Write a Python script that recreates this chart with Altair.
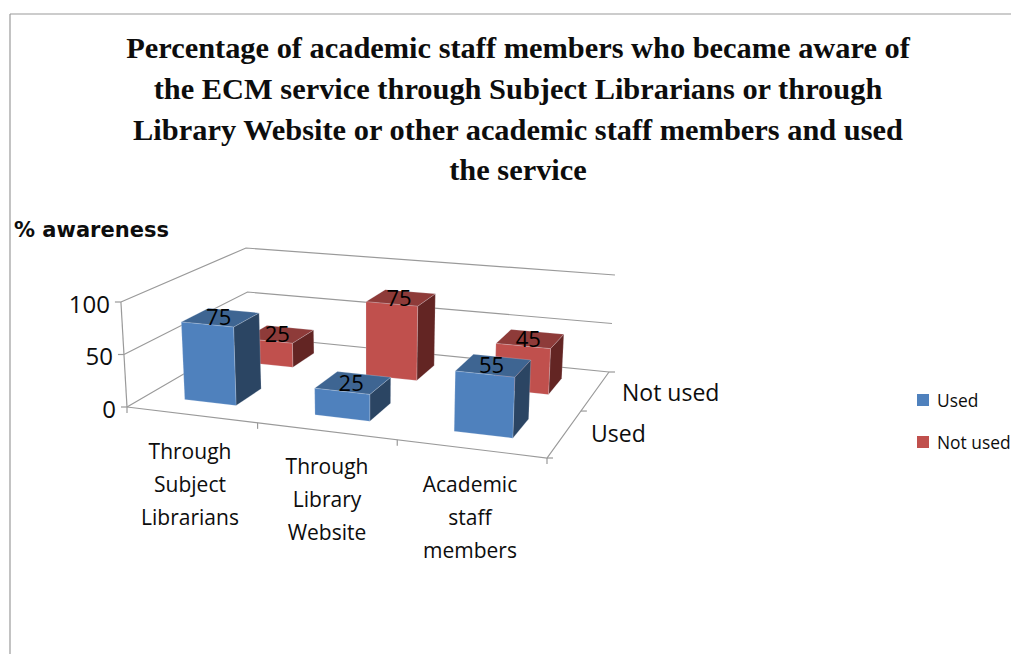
import altair as alt
import numpy as np
import pandas as pd

title_lines = ["Percentage of academic staff members who became aware of",
               "the ECM service through Subject Librarians or through",
               "Library Website or other academic staff members and used",
               "the service"]
y_title = "% awareness"
category_lines = [["Through", "Subject", "Librarians"],
                  ["Through", "Library", "Website"],
                  ["Academic", "staff", "members"]]
series = ["Used", "Not used"]
used = [75, 25, 55]
not_used = [25, 75, 45]
y_ticks = [0, 50, 100]

W, H = 1003, 646
FONT = "Open Sans"

def homography(src, dst):
    A, b = [], []
    for (u, v), (x, y) in zip(src, dst):
        A.append([u, v, 1, 0, 0, 0, -u * x, -v * x]); b.append(x)
        A.append([0, 0, 0, u, v, 1, -u * y, -v * y]); b.append(y)
    return np.append(np.linalg.solve(np.array(A, float), np.array(b, float)), 1).reshape(3, 3)

unit = [(0, 0), (1, 0), (1, 1), (0, 1)]
FLOOR = homography(unit, [(127, 407), (547, 458), (609, 372), (249, 336)])
WALL_FL, WALL_FR, WALL_BR, WALL_BL = 105, 114, 97, 88
LEAN, LEAN_X = 0.025, 370

def pt(u, v, h):
    a = FLOOR @ [u, v, 1]
    x, y = a[:2] / a[2]
    full = (WALL_FL * (1 - u) + WALL_FR * u) * (1 - v) + (WALL_BL * (1 - u) + WALL_BR * u) * v
    return float(x + (x - LEAN_X) * LEAN * h / 100), float(y - full * h / 100)

# straight lines
lines = []
def add_line(name, pts):
    for i, (x, y) in enumerate(pts):
        lines.append({"id": name, "i": i, "x": x, "y": y})

add_line("top", [(10, 14), (1011, 14)])
add_line("left", [(10, 14), (10, 654)])
for t in y_ticks:
    add_line(f"wall{t}", [pt(0, 0, t), pt(0, 1, t), pt(1, 1, t)])
    x, y = pt(0, 0, t)
    add_line(f"yt{t}", [(x - 6, y), (x, y)])
add_line("axisv", [pt(0, 0, 0), pt(0, 0, 100)])
add_line("front", [pt(0, 0, 0), pt(1, 0, 0), pt(1, 1, 0)])
for k in range(len(category_lines) + 1):
    x, y = pt(k / 3, 0, 0)
    add_line(f"ct{k}", [(x, y), (x, y + 6)])
for k in range(len(series) + 1):
    x, y = pt(1, k / 2, 0)
    add_line(f"st{k}", [(x, y), (x + 6, y)])
lines_df = pd.DataFrame(lines)

# bar faces
SHADES = {"Used": ("#4F81BD", "#3E6592", "#2B4563"),
          "Not used": ("#C0504D", "#8E3B39", "#632523")}
HU, HV = 0.067, 0.105
faces, labels = [], []
def add_face(name, fill, pts):
    for i, (x, y) in enumerate(pts + pts[:1]):
        faces.append({"face": name, "i": i, "x": x, "y": y, "fill": fill})

for s_idx in (1, 0):
    s = series[s_idx]
    vals = (used, not_used)[s_idx]
    for c, val in enumerate(vals):
        uc, vc = (c + 0.5) / 3, (s_idx + 0.5) / 2
        u0, u1, v0, v1 = uc - HU, uc + HU, vc - HV, vc + HV
        f, t, d = SHADES[s]
        tag = f"{s_idx}-{c}"
        add_face(tag + "a", d, [pt(u1, v0, 0), pt(u1, v1, 0), pt(u1, v1, val), pt(u1, v0, val)])
        add_face(tag + "b", t, [pt(u0, v0, val), pt(u1, v0, val), pt(u1, v1, val), pt(u0, v1, val)])
        add_face(tag + "c", f, [pt(u0, v0, 0), pt(u1, v0, 0), pt(u1, v0, val), pt(u0, v0, val)])
        x, y = pt(uc, vc, val)
        labels.append({"x": x - 2, "y": y + 1, "text": str(val)})
faces_df = pd.DataFrame(faces)
labels_df = pd.DataFrame(labels)

# text
texts = []
def add_text(x, y, text, size, align="center", weight="normal", font=FONT):
    texts.append({"x": x, "y": y + 1.5, "text": text, "size": size, "align": align, "weight": weight, "font": font})

for i, line in enumerate(title_lines):
    add_text(518, 47.5 + 40.8 * i, line, 30.4, weight="bold", font="Liberation Serif")
add_text(14, 229, y_title, 21, align="left", weight="bold", font="DejaVu Sans")
for t in y_ticks:
    x, y = pt(0, 0, t)
    add_text(x - 11, y + 2, str(t), 24, align="right")
cat_pos = [(190, 451), (327, 466), (470, 484)]
for (cx, cy), cl in zip(cat_pos, category_lines):
    for j, line in enumerate(cl):
        add_text(cx, cy + 33 * j, line, 21)
add_text(622, 392, series[1], 23, align="left")
add_text(591, 433, series[0], 23, align="left")
add_text(937, 400, series[0], 17.4, align="left")
add_text(937, 442, series[1], 17.4, align="left")
texts_df = pd.DataFrame(texts)

legend_df = pd.DataFrame({"x": [923, 923], "y": [400, 442], "series": series,
                          "fill": [SHADES[s][0] for s in series]})

X = alt.X("x:Q", scale=alt.Scale(domain=[8, 8 + W], nice=False, zero=False), axis=None)
Y = alt.Y("y:Q", scale=alt.Scale(domain=[8 + H, 8], nice=False, zero=False), axis=None)

line_layer = alt.Chart(lines_df).mark_line(color="#9A9A9A", strokeWidth=1.2).encode(
    X, Y, detail="id:N", order="i:Q")
face_layers = [
    alt.Chart(g).mark_line(filled=True, strokeWidth=0.6, stroke="#E8EEF5", strokeOpacity=0.35,
                           fill=g["fill"].iloc[0], interpolate="linear").encode(X, Y, order="i:Q")
    for _, g in faces_df.groupby("face", sort=False)
]
label_layer = alt.Chart(labels_df).mark_text(font=FONT, fontSize=22, color="#000000").encode(X, Y, text="text:N")
square_layer = alt.Chart(legend_df).mark_square(size=144, opacity=1).encode(
    X, Y, fill=alt.Fill("fill:N", scale=None), stroke=alt.value(None))
text_layers = [
    alt.Chart(g).mark_text(align=key[0], fontWeight=key[1], font=key[2], fontSize=key[3], color="#0D0D0D").encode(
        X, Y, text="text:N")
    for key, g in texts_df.groupby(["align", "weight", "font", "size"], sort=False)
]

chart = alt.layer(line_layer, *face_layers, label_layer, square_layer, *text_layers).properties(
    width=W, height=H, padding=0, autosize=alt.AutoSizeParams(type="none"),
    background="white").configure_view(stroke=None)

chart.save("out.html", embed_options={"renderer": "svg", "actions": False})
